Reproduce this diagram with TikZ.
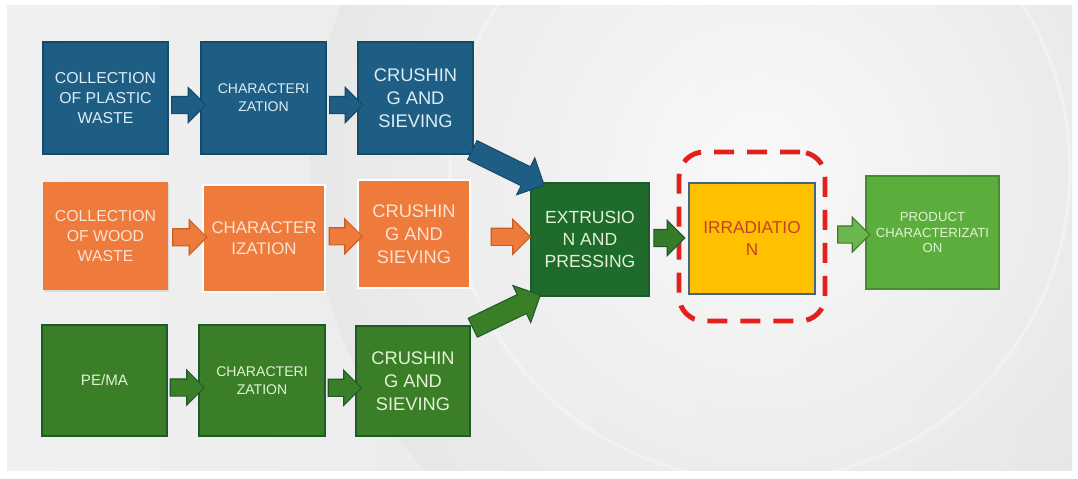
\documentclass[tikz,border=0pt]{standalone}
\usepackage{fontspec}
\setmainfont{Liberation Sans}
\usepackage{xcolor}
\usepackage{tikz}
\usetikzlibrary{arrows.meta,positioning,shapes.arrows,fit,calc,shadows}
\definecolor{bluefill}{HTML}{1F5E84}
\definecolor{blueline}{HTML}{174A69}
\definecolor{bluetext}{HTML}{DCEDF5}
\definecolor{orangefill}{HTML}{EE7B3C}
\definecolor{orangeline}{HTML}{C65E27}
\definecolor{orangetext}{HTML}{FCE2D2}
\definecolor{greenfill}{HTML}{3B7E28}
\definecolor{greenline}{HTML}{1F5A2C}
\definecolor{greentext}{HTML}{E3F2D6}
\definecolor{darkgreen}{HTML}{1E6B2C}
\definecolor{lightgreen}{HTML}{5BAE3B}
\definecolor{irryellow}{HTML}{FFC000}
\definecolor{irrtext}{HTML}{C2432B}
\definecolor{dashred}{HTML}{E2201E}
\definecolor{slidegray}{HTML}{E6E6E6}
\newcommand\fbig{\fontsize{10.4}{13}\selectfont}
\newcommand\fmid{\fontsize{9}{11.3}\selectfont}
\newcommand\fsmall{\fontsize{8}{10.2}\selectfont}
\newcommand\ftiny{\fontsize{7.5}{8.8}\selectfont}
\tikzset{
  stage/.style={rectangle,align=center,inner sep=1pt,line width=0.6pt},
  bluebox/.style={stage,fill=bluefill,draw=blueline,text=bluetext},
  orangebox/.style={stage,fill=orangefill,draw=white,text=orangetext},
  greenbox/.style={stage,fill=greenfill,draw=greenline,text=greentext},
  sarr/.style={single arrow,inner xsep=0pt,inner ysep=0.16cm,single arrow head extend=0.18cm,
    single arrow head indent=0pt,line width=0.6pt},
  bigarr/.style={sarr,inner ysep=0.2cm,single arrow head extend=0.2cm},
}
\begin{document}
\begin{tikzpicture}[x=0.02cm,y=-0.02cm]
\useasboundingbox (0,0) rectangle (1078,478);
% slide background
\shade[left color=slidegray!60!white,right color=slidegray] (7,5) rectangle (1072,470);
\begin{scope}
\clip (7,5) rectangle (1072,470);
\shade[inner color=white,outer color=slidegray,opacity=0.75] (760,170) circle (9cm);
\draw[white,line width=2pt,opacity=0.3] (760,170) circle (6.2cm);
\end{scope}

% plastic waste row
\node[bluebox,minimum width=2.5cm,minimum height=2.24cm,font=\fmid] (b1) at (105.5,98) {COLLECTION\\OF PLASTIC\\WASTE};
\node[bluebox,minimum width=2.5cm,minimum height=2.24cm,font=\fsmall] (b2) at (263.5,98) {CHARACTERI\\ZATION};
\node[bluebox,minimum width=2.3cm,minimum height=2.24cm,font=\fbig] (b3) at (415.5,98) {CRUSHIN\\G AND\\SIEVING};

% wood waste row
\node[orangebox,draw=none,minimum width=2.5cm,minimum height=2.16cm,font=\fmid,
  drop shadow={opacity=0.18,shadow xshift=0.8pt,shadow yshift=-1.2pt}] (o1) at (105.5,236) {COLLECTION\\OF WOOD\\WASTE};
\node[orangebox,minimum width=2.44cm,minimum height=2.14cm,font=\fontsize{9.6}{12}\selectfont] (o2) at (264,238.5) {CHARACTER\\IZATION};
\node[orangebox,minimum width=2.24cm,minimum height=2.16cm,font=\fbig] (o3) at (414,234) {CRUSHIN\\G AND\\SIEVING};

% PE/MA row
\node[greenbox,minimum width=2.5cm,minimum height=2.22cm,font=\fontsize{8.6}{10}\selectfont] (g1) at (104.5,380.5) {PE/MA};
\node[greenbox,minimum width=2.52cm,minimum height=2.22cm,font=\fsmall] (g2) at (262,380.5) {CHARACTERI\\ZATION};
\node[greenbox,minimum width=2.28cm,minimum height=2.2cm,font=\fbig] (g3) at (413,381) {CRUSHIN\\G AND\\SIEVING};

% common steps
\node[stage,fill=darkgreen,draw=greenline,text=greentext,minimum width=2.36cm,minimum height=2.26cm,font=\fontsize{10}{12.6}\selectfont] (ext) at (590,239.5) {EXTRUSIO\\N AND\\PRESSING};
\node[stage,fill=irryellow,draw=cyan!50!blue!60!black,text=irrtext,minimum width=2.52cm,minimum height=2.22cm,font=\fontsize{9.8}{12.6}\selectfont] (irr) at (752,238.5) {IRRADIATIO\\N};
\node[stage,fill=lightgreen,draw=lightgreen!80!black,text=greentext,minimum width=2.66cm,minimum height=2.26cm,font=\ftiny,yshift=0.1cm] (prod) at (932.5,237.5) {PRODUCT\\CHARACTERIZATI\\ON};
\node[fit=(irr),inner xsep=0.19cm,inner ysep=0.57cm,yshift=0.04cm,draw=dashred,line width=2.8pt,
  dash pattern=on 0.4cm off 0.26cm,rounded corners=0.5cm] (frame) {};

% arrows along the rows
\foreach \r/\c/\e/\s in {b/bluefill/blueline/-0.14cm, o/orangefill/orangeline/0cm, g/greenfill/greenline/-0.14cm} {
  \path (\r1.east) -- (\r2.west) node[midway,yshift=\s,sarr,fill=\c,draw=\e,minimum height=0.68cm] {};
  \path (\r2.east) -- (\r3.west) node[midway,yshift=\s,sarr,fill=\c,draw=\e,minimum height=0.66cm] {};
}
\path (b3.south east) -- (ext.north west) node[midway,sloped,bigarr,fill=bluefill,draw=blueline,minimum height=1.6cm,yshift=0.07cm] {};
\path (o3.east) -- (ext.west) node[midway,xshift=0.12cm,sarr,fill=orangefill,draw=orangeline,minimum height=0.78cm] {};
\path (g3.north east) -- (ext.south west) node[midway,sloped,bigarr,fill=greenfill,draw=greenline,minimum height=1.5cm,yshift=-0.06cm] {};
\path (ext.east) -- (frame.west) node[midway,xshift=0.04cm,sarr,fill=greenfill!80!darkgreen,draw=greenline,minimum height=0.62cm] {};
\path (frame.east) -- (prod.west) node[midway,xshift=0.06cm,sarr,fill=lightgreen!90!white,draw=lightgreen!70!black,minimum height=0.64cm] {};
\end{tikzpicture}
\end{document}
